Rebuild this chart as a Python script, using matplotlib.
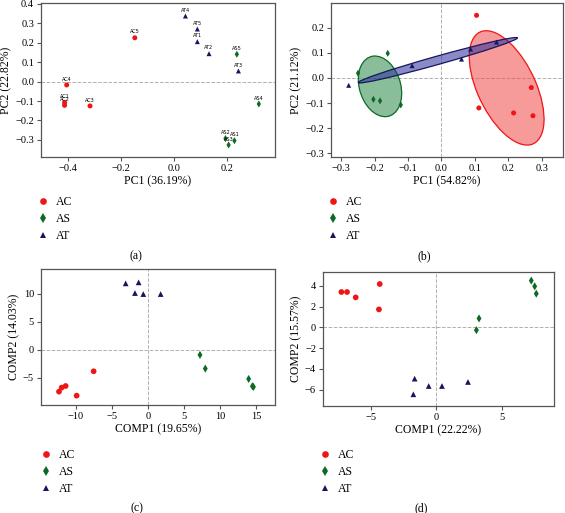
import numpy as np
import matplotlib
matplotlib.use('Agg')
import matplotlib.pyplot as plt
from matplotlib.patches import Ellipse
from matplotlib.lines import Line2D

plt.rcParams['font.family'] = ['Liberation Serif', 'DejaVu Serif']

groups = ['AC', 'AS', 'AT']
colors = {'AC': '#f01414', 'AS': '#0b6a23', 'AT': '#16165e'}
markers = {'AC': 'o', 'AS': 'd', 'AT': '^'}

# (a) PCA with sample labels
a_labels = {
    'AC': ['AC1', 'AC2', 'AC3', 'AC4', 'AC5'],
    'AS': ['AS1', 'AS2', 'AS3', 'AS4', 'AS5'],
    'AT': ['AT1', 'AT2', 'AT3', 'AT4', 'AT5'],
}
a_x = {
    'AC': [-0.413, -0.413, -0.317, -0.405, -0.148],
    'AS': [0.228, 0.194, 0.206, 0.320, 0.237],
    'AT': [0.088, 0.132, 0.243, 0.043, 0.088],
}
a_y = {
    'AC': [-0.108, -0.122, -0.125, -0.017, 0.226],
    'AS': [-0.304, -0.293, -0.326, -0.115, 0.141],
    'AT': [0.206, 0.144, 0.055, 0.338, 0.271],
}

# (b) PCA with ellipses
b_x = {
    'AC': [0.105, 0.269, 0.112, 0.216, 0.274],
    'AS': [-0.250, -0.161, -0.204, -0.184, -0.122],
    'AT': [-0.278, -0.088, 0.060, 0.087, 0.165],
}
b_y = {
    'AC': [0.249, -0.038, -0.119, -0.139, -0.150],
    'AS': [0.019, 0.098, -0.085, -0.091, -0.107],
    'AT': [-0.029, 0.049, 0.075, 0.115, 0.143],
}

# (c) COMP1 / COMP2
c_x = {
    'AC': [-7.55, -12.36, -11.99, -11.44, -9.91],
    'AS': [7.22, 7.96, 13.98, 14.50, 14.65],
    'AT': [-3.10, -1.30, -1.81, -0.65, 1.76],
}
c_y = {
    'AC': [-3.83, -7.47, -6.75, -6.46, -8.19],
    'AS': [-0.90, -3.35, -5.20, -6.50, -6.62],
    'AT': [11.89, 12.07, 10.16, 9.98, 9.98],
}

# (d) COMP1 / COMP2
d_x = {
    'AC': [-7.23, -6.80, -6.14, -4.31, -4.37],
    'AS': [7.23, 7.49, 7.61, 3.25, 3.05],
    'AT': [-1.65, -0.58, 0.43, 2.41, -1.75],
}
d_y = {
    'AC': [3.42, 3.42, 2.90, 4.19, 1.74],
    'AS': [4.52, 3.97, 3.26, 0.87, -0.26],
    'AT': [-4.94, -5.65, -5.65, -5.26, -6.45],
}

W, H = 565, 513
fig = plt.figure(figsize=(W / 100, H / 100), dpi=100)


def add_ax(left, top, right, bottom):
    return fig.add_axes([left / W, 1 - bottom / H, (right - left) / W, (bottom - top) / H])


def style(ax, xlabel, ylabel, vline=True):
    for s in ax.spines.values():
        s.set_color('#555555')
        s.set_linewidth(0.9)
    ax.tick_params(direction='out', length=3, width=0.8, labelsize=7.5, pad=2, color='#555555')
    ax.axhline(0, color='#b0b0b0', ls='--', lw=0.7, zorder=0)
    if vline:
        ax.axvline(0, color='#b0b0b0', ls='--', lw=0.7, zorder=0)
    ax.set_xlabel(xlabel, fontsize=8.5, labelpad=2)
    ax.set_ylabel(ylabel, fontsize=8.5, labelpad=2)


def conf_ellipse(ax, x, y, fill, edge, k=1.36):
    x = np.asarray(x); y = np.asarray(y)
    cov = np.cov(x, y)
    vals, vecs = np.linalg.eigh(cov)
    order = vals.argsort()[::-1]
    vals, vecs = vals[order], vecs[:, order]
    angle = np.degrees(np.arctan2(vecs[1, 0], vecs[0, 0]))
    w, h = 2 * k * np.sqrt(vals)
    ax.add_patch(Ellipse((x.mean(), y.mean()), w, h, angle=angle,
                         facecolor=fill, alpha=0.55, edgecolor='none', zorder=1))
    ax.add_patch(Ellipse((x.mean(), y.mean()), w, h, angle=angle,
                         facecolor='none', edgecolor=edge, lw=0.9, zorder=1))


def scatter(ax, xs, ys, size):
    for g in groups:
        ax.scatter(xs[g], ys[g], s=size, marker=markers[g], color=colors[g],
                   edgecolors='none', zorder=3)


# panel a
ax = add_ax(41, 3, 275, 157)
scatter(ax, a_x, a_y, 13)
for g in groups:
    for lab, x, y in zip(a_labels[g], a_x[g], a_y[g]):
        ax.annotate(lab, (x, y), xytext=(0, 4.2), textcoords='offset points',
                    ha='center', va='center', fontsize=3.6, family='DejaVu Sans')
ax.set_xlim(-0.502, 0.381)
ax.set_ylim(-0.388, 0.405)
ax.set_xticks([-0.4, -0.2, 0.0, 0.2])
ax.set_yticks([-0.3, -0.2, -0.1, 0.0, 0.1, 0.2, 0.3, 0.4])
style(ax, 'PC1 (36.19%)', 'PC2 (22.82%)', vline=False)

# panel b
ax = add_ax(331, 3, 563, 157)
conf_ellipse(ax, b_x['AC'], b_y['AC'], '#f04848', '#f01414')
conf_ellipse(ax, b_x['AS'], b_y['AS'], '#2a8a48', '#0b6a23')
conf_ellipse(ax, b_x['AT'], b_y['AT'], '#2a2a9a', '#16165e')
scatter(ax, b_x, b_y, 13)
ax.set_xlim(-0.331, 0.364)
ax.set_ylim(-0.314, 0.298)
ax.set_xticks([-0.3, -0.2, -0.1, 0.0, 0.1, 0.2, 0.3])
ax.set_yticks([-0.3, -0.2, -0.1, 0.0, 0.1, 0.2])
style(ax, 'PC1 (54.82%)', 'PC2 (21.12%)')

# panel c
ax = add_ax(41, 269, 275, 405)
scatter(ax, c_x, c_y, 17)
ax.set_xlim(-14.86, 17.64)
ax.set_ylim(-9.86, 14.46)
ax.set_xticks([-10, -5, 0, 5, 10, 15])
ax.set_yticks([-5, 0, 5, 10])
style(ax, 'COMP1 (19.65%)', 'COMP2 (14.03%)')

# panel d
ax = add_ax(323, 272, 554, 406)
scatter(ax, d_x, d_y, 17)
ax.set_xlim(-8.63, 8.96)
ax.set_ylim(-7.58, 5.35)
ax.set_xticks([-5, 0, 5])
ax.set_yticks([-6, -4, -2, 0, 2, 4])
style(ax, 'COMP1 (22.22%)', 'COMP2 (15.57%)')

# legends and captions
handles = [Line2D([], [], ls='none', marker=markers[g], color=colors[g], markersize=4.8,
                  markeredgewidth=0) for g in groups]
for (lx, ly) in [(37.5, 219), (327, 219), (40, 472), (319.5, 472)]:
    fig.legend(handles, groups, loc='center left', bbox_to_anchor=(lx / W, 1 - ly / H),
               frameon=False, fontsize=8.5, handlelength=1, handletextpad=0.6,
               labelspacing=0.45, borderpad=0, borderaxespad=0)

for lab, (cx, cy) in zip(['(a)', '(b)', '(c)', '(d)'],
                         [(136, 256), (424, 256), (137, 508), (421, 508)]):
    fig.text(cx / W, 1 - cy / H, lab, ha='center', va='center', fontsize=8.5)

fig.savefig('out.png', dpi=100)
